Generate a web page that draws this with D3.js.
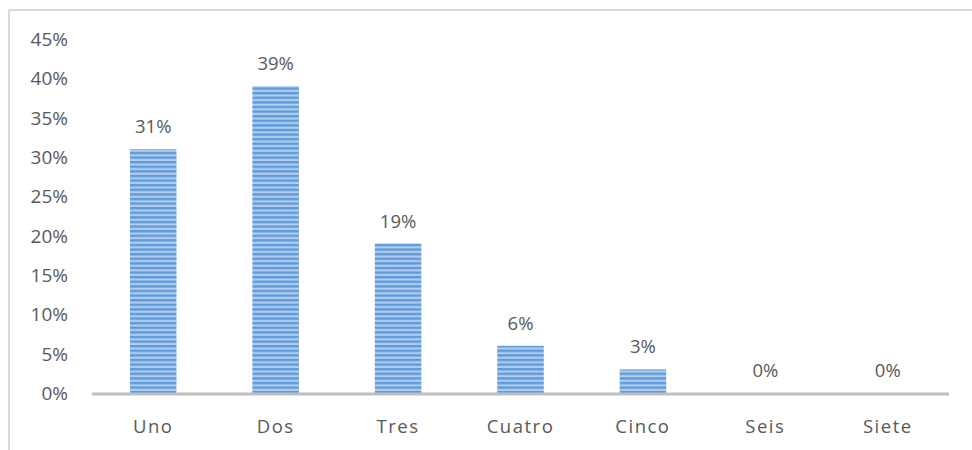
<!DOCTYPE html>
<html>
<head>
<meta charset="utf-8">
<script src="https://cdn.jsdelivr.net/npm/d3@7"></script>
<style>
  body { margin: 0; background: #fff; }
  text { font-family: "Open Sans", "DejaVu Sans", sans-serif; fill: #595959; }
</style>
</head>
<body>
<svg id="chart" width="972" height="450"></svg>
<script>
// data
var categories = ["Uno", "Dos", "Tres", "Cuatro", "Cinco", "Seis", "Siete"];
var values = [0.31, 0.39, 0.19, 0.06, 0.03, 0, 0];
var yTicks = [0, 0.05, 0.10, 0.15, 0.20, 0.25, 0.30, 0.35, 0.40, 0.45];

var svg = d3.select("#chart");

// chart frame (only top and left edges visible)
svg.append("line").attr("x1", 9).attr("y1", 10).attr("x2", 972).attr("y2", 10)
    .attr("stroke", "#d9d9d9").attr("stroke-width", 2);
svg.append("line").attr("x1", 9).attr("y1", 10).attr("x2", 9).attr("y2", 450)
    .attr("stroke", "#d9d9d9").attr("stroke-width", 2);

// striped fill for bars
var defs = svg.append("defs");
var pat = defs.append("pattern")
    .attr("id", "stripes")
    .attr("patternUnits", "userSpaceOnUse")
    .attr("width", 8).attr("height", 4.6);
pat.append("rect").attr("width", 8).attr("height", 4.6).attr("fill", "#b0cdee");
pat.append("rect").attr("width", 8).attr("height", 2.4).attr("fill", "#5f9bd9");

var x = d3.scaleBand()
    .domain(categories)
    .range([92, 949])
    .paddingInner(0.62)
    .paddingOuter(0.31);

var y = d3.scaleLinear()
    .domain([0, 0.45])
    .range([393, 39]);

// y tick labels
svg.append("g").selectAll("text")
    .data(yTicks)
    .enter()
    .append("text")
    .attr("x", 68)
    .attr("y", function (d) { return y(d); })
    .attr("dy", "0.36em")
    .attr("text-anchor", "end")
    .attr("font-size", "19px")
    .text(function (d) { return d3.format(".0%")(d); });

// bars
svg.append("g").selectAll("rect")
    .data(values)
    .enter()
    .append("rect")
    .attr("x", function (d, i) { return x(categories[i]); })
    .attr("y", function (d) { return y(d); })
    .attr("width", x.bandwidth())
    .attr("height", function (d) { return y(0) - y(d); })
    .attr("fill", "url(#stripes)");

// value labels
svg.append("g").selectAll("text")
    .data(values)
    .enter()
    .append("text")
    .attr("x", function (d, i) { return x(categories[i]) + x.bandwidth() / 2; })
    .attr("y", function (d) { return y(d) - 16; })
    .attr("text-anchor", "middle")
    .attr("font-size", "18.5px")
    .attr("fill", "#404040")
    .text(function (d) { return d3.format(".0%")(d); });

// x axis line
svg.append("line")
    .attr("x1", 92).attr("x2", 949)
    .attr("y1", y(0) + 1).attr("y2", y(0) + 1)
    .attr("stroke", "#bfbfbf").attr("stroke-width", 3);

// category labels
svg.append("g").selectAll("text")
    .data(categories)
    .enter()
    .append("text")
    .attr("x", function (d) { return x(d) + x.bandwidth() / 2; })
    .attr("y", 433)
    .attr("text-anchor", "middle")
    .attr("font-size", "18.5px")
    .attr("letter-spacing", "1.5px")
    .text(function (d) { return d; });
</script>
</body>
</html>
